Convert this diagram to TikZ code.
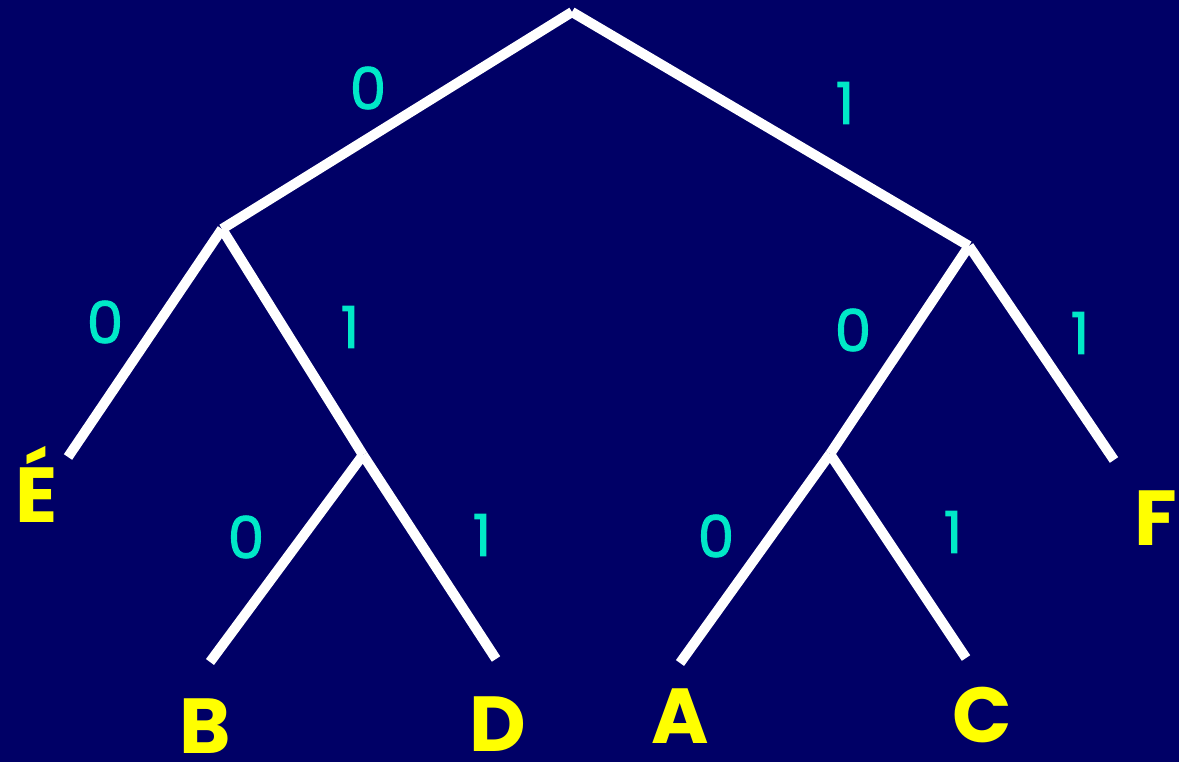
\documentclass[tikz,border=0pt]{standalone}
\usepackage{fontspec}
\setmainfont{Poppins}
\newfontfamily\bitfont[FakeBold=1.6]{Poppins}
\definecolor{bgblue}{RGB}{0,0,102}
\definecolor{bitcyan}{RGB}{0,232,200}
\definecolor{leafyellow}{RGB}{255,255,0}
\begin{document}
\begin{tikzpicture}[x=1pt,y=-1pt,
  branch/.style={draw=white,line width=10pt,line cap=butt},
  bit/.style={text=bitcyan,font=\bitfont\fontsize{58}{58}\selectfont,inner sep=0pt,anchor=center},
  leaf/.style={text=leafyellow,font=\fontsize{78}{78}\selectfont\bfseries,inner sep=0pt,anchor=base}]
\fill[bgblue] (0,0) rectangle (1179,762);
\useasboundingbox (0,0) rectangle (1179,762);
% tree points
\coordinate (root) at (572,12);
\coordinate (n0) at (222,229);
\coordinate (n1) at (969,246);
\coordinate (n01) at (363,455);
\coordinate (n10) at (830,454);
\coordinate (lE) at (68,457);
\coordinate (lF) at (1114,460);
\coordinate (lB) at (210,662);
\coordinate (lD) at (496,659);
\coordinate (lA) at (680,663);
\coordinate (lC) at (966,658);
% branches
\draw[branch] (root) -- (n0);
\draw[branch] (root) -- (n1);
\draw[branch] (n0) -- (lE);
\draw[branch] (n0) -- (n01);
\draw[branch] (n01) -- (lB);
\draw[branch] (n01) -- (lD);
\draw[branch] (n1) -- (n10);
\draw[branch] (n1) -- (lF);
\draw[branch] (n10) -- (lA);
\draw[branch] (n10) -- (lC);
% bit labels
\node[bit] (b1) at (368,88) {0};
\node[bit] (b2) at (845,103) {1};
\node[bit] (b3) at (105,322) {0};
\node[bit] (b4) at (350,327) {1};
\node[bit] (b5) at (246,537) {0};
\node[bit] (b6) at (482,535) {1};
\node[bit] (b7) at (853,330) {0};
\node[bit] (b8) at (1080,333) {1};
\node[bit] (b9) at (716,536) {0};
\node[bit] (b10) at (953,532) {1};
% leaves
\node[leaf] (tE) at (37,522) {É};
\node[leaf] (tB) at (205,753) {B};
\node[leaf] (tD) at (498,751) {D};
\node[leaf] (tA) at (680,743) {A};
\node[leaf] (tC) at (982,742) {C};
\node[leaf] (tF) at (1156,545) {F};
\end{tikzpicture}
\end{document}
